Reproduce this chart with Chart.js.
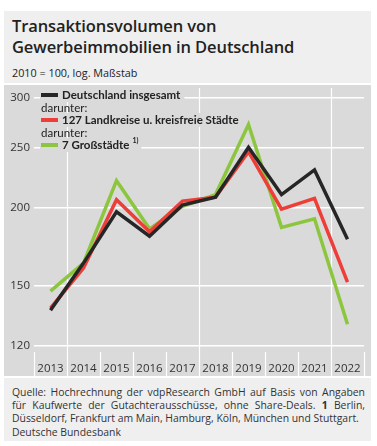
<!DOCTYPE html>
<html lang="de">
<head>
<meta charset="utf-8">
<script src="https://cdn.jsdelivr.net/npm/chart.js@4.4.0/dist/chart.umd.min.js"></script>
<style>
    body { margin: 0; background: #fff; font-family: "Open Sans", sans-serif; color: #222; }
    #wrap { position: absolute; left: 4px; top: 11px; width: 367px; }
    #head { background: #efefef; height: 72px; padding: 0 8px; box-sizing: border-box; }
    #title { font-weight: 600; font-size: 16.5px; line-height: 21px; padding-top: 4px; letter-spacing: -0.1px; }
    #sub { font-size: 10.8px; margin-top: 8px; }
    #plot { background: #dadada; margin-top: 2px; height: 291px; }
    #foot { background: #efefef; margin-top: 2px; height: 63px; padding: 8px 6px 0 8px; box-sizing: border-box;
            font-size: 10.4px; line-height: 12.8px; color: #333; }
    #foot .line { white-space: nowrap; text-align: justify; text-align-last: justify; }
    #foot .last { white-space: nowrap; }
    #foot .bank { margin-top: 2px; }
</style>
</head>
<body>
<div id="wrap">
    <div id="head">
        <div id="title">Transaktionsvolumen von<br>Gewerbeimmobilien in Deutschland</div>
        <div id="sub">2010 = 100, log. Maßstab</div>
    </div>
    <div id="plot"><canvas id="volumeChart" width="367" height="291"></canvas></div>
    <div id="foot">
        <div class="line">Quelle: Hochrechnung der vdpResearch GmbH auf Basis von Angaben</div>
        <div class="line">für Kaufwerte der Gutachterausschüsse, ohne Share-Deals. <b>1</b> Berlin,</div>
        <div class="last">Düsseldorf, Frankfurt am Main, Hamburg, Köln, München und Stuttgart.</div>
        <div class="bank">Deutsche Bundesbank</div>
    </div>
</div>
<script>
// Data (2010 = 100)
const years = ["2013", "2014", "2015", "2016", "2017", "2018", "2019", "2020", "2021", "2022"];
const germanyTotal = [137, 163, 197, 180, 202, 208, 250, 210, 230, 178];
const districts127 = [138, 160, 206, 183, 205, 208, 246, 199, 207, 152];
const bigCities7 = [147, 163, 221, 185, 201, 210, 272, 186, 192, 130];
const yTicks = [120, 150, 200, 250, 300];

const seriesNames = ["Deutschland insgesamt", "127 Landkreise u. kreisfreie Städte", "7 Großstädte"];
const seriesColors = ["#262626", "#ee3e38", "#8cc63e"];

// Custom legend with "darunter:" rows, drawn on top of the grid
const legendPlugin = {
    id: "customLegend",
    beforeDatasetsDraw(chart) {
        const ctx = chart.ctx;
        const rows = [
            { y: 10, text: seriesNames[0], color: seriesColors[0] },
            { y: 23, text: "darunter:" },
            { y: 35, text: seriesNames[1], color: seriesColors[1] },
            { y: 48, text: "darunter:" },
            { y: 60, text: seriesNames[2], color: seriesColors[2], sup: "1)" }
        ];
        ctx.save();
        ctx.textBaseline = "middle";
        rows.forEach((row) => {
            if (row.color) {
                ctx.font = "bold 11.5px Lato";
                let w = ctx.measureText(row.text).width;
                if (row.sup) w += 8;
                ctx.fillStyle = "#dadada";
                ctx.fillRect(36, row.y - 7, w + 26, 14);
                ctx.strokeStyle = row.color;
                ctx.lineWidth = 4;
                ctx.beginPath();
                ctx.moveTo(37, row.y);
                ctx.lineTo(54, row.y);
                ctx.stroke();
                ctx.fillStyle = "#222";
                ctx.fillText(row.text, 58, row.y);
                if (row.sup) {
                    ctx.font = "bold 7px Lato";
                    ctx.fillText(row.sup, 58 + w - 5, row.y - 4);
                }
            } else {
                ctx.font = "11.5px Lato";
                ctx.fillStyle = "#222";
                ctx.fillText(row.text, 37, row.y);
            }
        });
        ctx.restore();
    }
};

// Vertical separators between year labels and a few full-height lines
const xGridPlugin = {
    id: "xGrid",
    beforeDatasetsDraw(chart) {
        const ctx = chart.ctx;
        const x = chart.scales.x;
        const area = chart.chartArea;
        const step = x.getPixelForValue(1) - x.getPixelForValue(0);
        ctx.save();
        ctx.strokeStyle = "#ffffff";
        ctx.lineWidth = 1.2;
        for (let i = 0; i <= years.length; i++) {
            const px = Math.round(x.getPixelForValue(i) - step / 2) + 0.5;
            const full = i === 1 || i === 5 || i === 9;
            ctx.beginPath();
            ctx.moveTo(px, full ? 3 : area.bottom + 6);
            ctx.lineTo(px, chart.height);
            ctx.stroke();
        }
        ctx.restore();
    }
};

const chartCanvas = document.getElementById("volumeChart");
new Chart(chartCanvas, {
    type: "line",
    data: {
        labels: years,
        datasets: [germanyTotal, districts127, bigCities7].map((values, i) => ({
            label: seriesNames[i],
            data: values,
            borderColor: seriesColors[i],
            borderWidth: 3.5,
            borderJoinStyle: "miter",
            pointRadius: 0,
            tension: 0
        }))
    },
    options: {
        responsive: false,
        animation: false,
        devicePixelRatio: 1,
        layout: { padding: { left: 4, right: 7, top: 13, bottom: 0 } },
        plugins: { legend: { display: false }, tooltip: { enabled: false } },
        scales: {
            x: {
                offset: true,
                grid: { display: false },
                border: { display: false },
                ticks: { color: "#333", font: { family: "Open Sans", size: 11.5 }, padding: 8, maxRotation: 0, autoSkip: false },
                afterFit(scale) { scale.height = 30; }
            },
            y: {
                type: "logarithmic",
                min: 120,
                max: 300,
                border: { display: false },
                grid: { color: "#ffffff", lineWidth: 1.5, drawTicks: false },
                afterBuildTicks(scale) { scale.ticks = yTicks.map((v) => ({ value: v })); },
                afterFit(scale) { scale.width = 26; },
                ticks: {
                    color: "#333",
                    font: { family: "Open Sans", size: 11.5 },
                    padding: 4,
                    callback: (v) => String(v)
                }
            }
        }
    },
    plugins: [xGridPlugin, legendPlugin]
});
</script>
</body>
</html>
